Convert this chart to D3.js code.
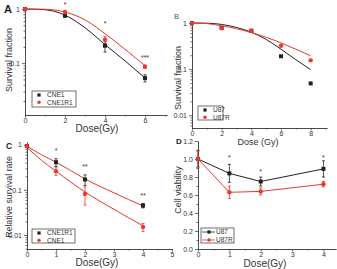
<!DOCTYPE html>
<html>
<head>
<meta charset="utf-8">
<script src="https://cdn.jsdelivr.net/npm/d3@7/dist/d3.min.js"></script>
<style>
  body { margin: 0; background: #fff; }
  svg { display: block; font-family: "Liberation Sans", Arial, sans-serif; }
  .axis path, .axis line { stroke: #444; stroke-width: 0.8; }
  .axis text { font-size: 7px; fill: #333; font-family: "Liberation Sans", Arial, sans-serif; }
  .title { font-size: 9px; fill: #333; }
  .legend text { font-size: 6.5px; fill: #333; }
  .star { font-size: 7px; fill: #333; }
</style>
</head>
<body>
<svg id="fig" width="337" height="269"></svg>
<script>

// ---- panel A : CNE1 vs CNE1R1 clonogenic survival
var doseA = [0, 2, 4, 6];
var cne1A = [1, 0.75, 0.21, 0.053];
var cne1ErrA = [0, 0.04, 0.05, 0.008];
var cne1r1A = [1, 0.88, 0.27, 0.086];
var cne1r1ErrA = [0, 0.03, 0.04, 0.006];
var fitDoseA = [0, 1, 2, 3, 4, 5, 6];
var cne1FitA = [1, 0.97, 0.77, 0.45, 0.22, 0.11, 0.053];
var cne1r1FitA = [1, 0.99, 0.88, 0.63, 0.35, 0.18, 0.09];
var starsA = ["*", "*", "***"];
var starYA = [1.25, 0.55, 0.13];

// ---- panel B : U87 vs U87R clonogenic survival
var doseB = [0, 2, 4, 6, 8];
var u87B = [1, 0.78, 0.68, 0.19, 0.049];
var u87rB = [1, 0.77, 0.67, 0.32, 0.155];
var fitDoseB = [0, 1, 2, 3, 4, 5, 6, 7, 8];
var u87FitB = [1, 0.99, 0.93, 0.8, 0.63, 0.44, 0.27, 0.16, 0.097];
var u87rFitB = [1, 0.97, 0.87, 0.75, 0.62, 0.49, 0.37, 0.27, 0.195];

// ---- panel C : relative survival rate
var doseC = [0, 1, 2, 4];
var cne1r1C = [0.93, 0.41, 0.17, 0.045];
var cne1r1ErrC = [0.05, 0.08, 0.045, 0.005];
var cne1C = [0.93, 0.26, 0.081, 0.015];
var cne1ErrC = [0.05, 0.05, 0.035, 0.003];
var fitDoseC = [0, 0.5, 1, 1.5, 2, 3, 4];
var upperFitC = [0.93, 0.6, 0.41, 0.27, 0.175, 0.086, 0.044];
var lowerFitC = [0.87, 0.45, 0.26, 0.15, 0.09, 0.037, 0.016];
var starsC = ["*", "**", "**"];
var starYC = [0.77, 0.34, 0.078];

// ---- panel D : cell viability
var doseD = [0, 1, 2, 4];
var u87D = [1.0, 0.84, 0.75, 0.89];
var u87ErrD = [0.09, 0.1, 0.05, 0.09];
var u87rD = [1.0, 0.63, 0.64, 0.72];
var u87rErrD = [0.1, 0.07, 0.04, 0.03];
var starsD = ["*", "*", "*"];
var starYD = [1.02, 0.87, 1.02];

var RED = "#e8392b", BLACK = "#222";
var svg = d3.select("#fig");

function isDecade(v) {
  var l = Math.log10(v);
  return Math.abs(l - Math.round(l)) < 1e-6;
}

function xAxis(x, y0, majors, minors) {
  svg.append("g").attr("class", "axis").attr("transform", "translate(0," + y0 + ")")
    .call(d3.axisBottom(x).tickValues(minors).tickSize(1.5).tickSizeOuter(0).tickFormat(""));
  svg.append("g").attr("class", "axis").attr("transform", "translate(0," + y0 + ")")
    .call(d3.axisBottom(x).tickValues(majors).tickSize(2.5).tickSizeOuter(0).tickPadding(0.5).tickFormat(d3.format("d")));
}

function logAxis(y, x0) {
  var all = y.ticks();
  svg.append("g").attr("class", "axis").attr("transform", "translate(" + x0 + ",0)")
    .call(d3.axisLeft(y).tickValues(all.filter(function (v) { return !isDecade(v); }))
      .tickSize(1.5).tickSizeOuter(0).tickFormat(""));
  svg.append("g").attr("class", "axis").attr("transform", "translate(" + x0 + ",0)")
    .call(d3.axisLeft(y).tickValues(all.filter(isDecade)).tickSize(3).tickSizeOuter(0)
      .tickPadding(2).tickFormat(function (d) { return String(+d.toPrecision(1)); }));
}

function curve(x, y, xs, ys, color, kind) {
  svg.append("path")
    .datum(xs.map(function (d, i) { return [d, ys[i]]; }))
    .attr("fill", "none").attr("stroke", color).attr("stroke-width", 1)
    .attr("d", d3.line().x(function (d) { return x(d[0]); }).y(function (d) { return y(d[1]); }).curve(kind));
}

function errors(x, y, xs, ys, es, color) {
  xs.forEach(function (d, i) {
    if (!es[i]) return;
    var cx = x(d), y1 = y(ys[i] - es[i]), y2 = y(ys[i] + es[i]);
    svg.append("line").attr("x1", cx).attr("x2", cx).attr("y1", y1).attr("y2", y2)
      .attr("stroke", color).attr("stroke-width", 0.8);
    [y1, y2].forEach(function (yy) {
      svg.append("line").attr("x1", cx - 1.5).attr("x2", cx + 1.5).attr("y1", yy).attr("y2", yy)
        .attr("stroke", color).attr("stroke-width", 0.8);
    });
  });
}

function points(x, y, xs, ys, color, shape) {
  xs.forEach(function (d, i) {
    if (shape === "square") {
      svg.append("rect").attr("x", x(d) - 2).attr("y", y(ys[i]) - 2)
        .attr("width", 4).attr("height", 4).attr("fill", color);
    } else {
      svg.append("circle").attr("cx", x(d)).attr("cy", y(ys[i])).attr("r", 2.2).attr("fill", color);
    }
  });
}

function stars(x, y, xs, labels, ys) {
  xs.forEach(function (d, i) {
    svg.append("text").attr("class", "star").attr("x", x(d)).attr("y", y(ys[i]) + 3)
      .attr("text-anchor", "middle").text(labels[i]);
  });
}

function legend(x0, y0, w, h, items, withLine, gap) {
  var g = svg.append("g").attr("class", "legend");
  g.append("rect").attr("x", x0).attr("y", y0).attr("width", w).attr("height", h)
    .attr("fill", "#fff").attr("stroke", "#333").attr("stroke-width", 0.7);
  items.forEach(function (it, i) {
    var cy = y0 + 4 + i * gap;
    var sx = x0 + (withLine ? 8 : 7);
    if (withLine) {
      g.append("line").attr("x1", x0 + 1).attr("x2", x0 + 14).attr("y1", cy).attr("y2", cy)
        .attr("stroke", it.color).attr("stroke-width", 0.8);
    }
    if (it.shape === "square") {
      g.append("rect").attr("x", sx - 1.6).attr("y", cy - 1.6).attr("width", 3.2).attr("height", 3.2).attr("fill", it.color);
    } else {
      g.append("circle").attr("cx", sx).attr("cy", cy).attr("r", 1.7).attr("fill", it.color);
    }
    g.append("text").attr("x", x0 + 15).attr("y", cy + 2.3).text(it.label);
  });
}

function yTitle(x, y, text, size) {
  svg.append("text").attr("class", "title").attr("transform", "translate(" + x + "," + y + ") rotate(-90)")
    .attr("text-anchor", "middle").style("font-size", size + "px").text(text);
}

function xTitle(x, y, text, size) {
  svg.append("text").attr("class", "title").attr("x", x).attr("y", y)
    .attr("text-anchor", "middle").style("font-size", size + "px").text(text);
}

function panelLabel(x, y, text, size, weight, color) {
  svg.append("text").attr("x", x).attr("y", y).style("font-size", size + "px")
    .style("font-weight", weight).attr("fill", color).text(text);
}

// ===== A =====
var xA = d3.scaleLinear().domain([0, 7.1]).range([25, 167]);
var yA = d3.scaleLog().domain([0.011, 1]).range([115, 9]);
xAxis(xA, 115, [0, 2, 4, 6], [1, 3, 5, 7]);
logAxis(yA, 25);
curve(xA, yA, fitDoseA, cne1FitA, BLACK, d3.curveMonotoneX);
curve(xA, yA, fitDoseA, cne1r1FitA, RED, d3.curveMonotoneX);
errors(xA, yA, doseA, cne1A, cne1ErrA, BLACK);
errors(xA, yA, doseA, cne1r1A, cne1r1ErrA, RED);
points(xA, yA, doseA, cne1A, BLACK, "square");
points(xA, yA, doseA, cne1r1A, RED, "circle");
stars(xA, yA, doseA.slice(1), starsA, starYA);
legend(32, 91, 44, 16, [{label: "CNE1", color: BLACK, shape: "square"}, {label: "CNE1R1", color: RED, shape: "circle"}], false, 7.2);
yTitle(12, 60, "Survival fraction", 9);
xTitle(97, 132, "Dose(Gy)", 10);
panelLabel(4, 13, "A", 11, "bold", "#222");

// ===== B =====
var xB = d3.scaleLinear().domain([0, 9.1]).range([192, 327]);
var yB = d3.scaleLog().domain([0.0053, 1.05]).range([128, 22]);
xAxis(xB, 128, [0, 2, 4, 6, 8], [1, 3, 5, 7, 9]);
logAxis(yB, 192);
curve(xB, yB, fitDoseB, u87FitB, BLACK, d3.curveMonotoneX);
curve(xB, yB, fitDoseB, u87rFitB, RED, d3.curveMonotoneX);
points(xB, yB, doseB, u87B, BLACK, "square");
points(xB, yB, doseB, u87rB, RED, "circle");
legend(198, 106, 25, 14, [{label: "U87", color: BLACK, shape: "square"}, {label: "U87R", color: RED, shape: "circle"}], false, 7.2);
yTitle(181, 78, "Survival fraction", 9);
xTitle(258, 144.5, "Dose (Gy)", 9);
panelLabel(174, 19, "B", 7.5, "normal", "#555");

// ===== C =====
var xC = d3.scaleLinear().domain([0, 5]).range([27, 172]);
var yC = d3.scaleLog().domain([0.0049, 1.15]).range([249, 142]);
xAxis(xC, 249, [0, 1, 2, 3, 4, 5], [0.5, 1.5, 2.5, 3.5, 4.5]);
logAxis(yC, 27);
curve(xC, yC, fitDoseC, upperFitC, RED, d3.curveMonotoneX);
curve(xC, yC, fitDoseC, lowerFitC, RED, d3.curveMonotoneX);
errors(xC, yC, doseC, cne1r1C, cne1r1ErrC, BLACK);
errors(xC, yC, doseC, cne1C, cne1ErrC, RED);
points(xC, yC, doseC, cne1r1C, BLACK, "square");
points(xC, yC, doseC, cne1C, RED, "circle");
stars(xC, yC, doseC.slice(1), starsC, starYC);
legend(32, 229, 43, 14, [{label: "CNE1R1", color: BLACK, shape: "square"}, {label: "CNE1", color: RED, shape: "circle"}], false, 7.2);
yTitle(12, 197, "Relative survival rate", 8.8);
xTitle(97, 266, "Dose(Gy)", 10);
panelLabel(6, 149, "C", 8.5, "bold", "#222");

// ===== D =====
var xD = d3.scaleLinear().domain([0, 4.4]).range([198, 336]);
var yD = d3.scaleLinear().domain([0, 1.2]).range([249, 141]);
xAxis(xD, 249, [0, 1, 2, 3, 4], [0.5, 1.5, 2.5, 3.5]);
svg.append("g").attr("class", "axis").attr("transform", "translate(198,0)")
  .call(d3.axisLeft(yD).tickValues([0.1, 0.3, 0.5, 0.7, 0.9, 1.1]).tickSize(1.5).tickSizeOuter(0).tickFormat(""));
svg.append("g").attr("class", "axis").attr("transform", "translate(198,0)")
  .call(d3.axisLeft(yD).tickValues([0, 0.2, 0.4, 0.6, 0.8, 1.0, 1.2]).tickSize(3).tickSizeOuter(0)
    .tickPadding(2).tickFormat(d3.format(".1f")));
curve(xD, yD, doseD, u87D, BLACK, d3.curveLinear);
curve(xD, yD, doseD, u87rD, RED, d3.curveLinear);
errors(xD, yD, doseD, u87D, u87ErrD, BLACK);
errors(xD, yD, doseD, u87rD, u87rErrD, RED);
points(xD, yD, doseD, u87D, BLACK, "square");
points(xD, yD, doseD, u87rD, RED, "circle");
stars(xD, yD, doseD.slice(1), starsD, starYD);
legend(201, 228, 33, 15, [{label: "U87", color: BLACK, shape: "square"}, {label: "U87R", color: RED, shape: "circle"}], true, 8);
yTitle(181, 190, "Cell viability", 9);
xTitle(265, 267, "Dose(Gy)", 10);
panelLabel(176, 144, "D", 8, "bold", "#222");

</script>
</body>
</html>
